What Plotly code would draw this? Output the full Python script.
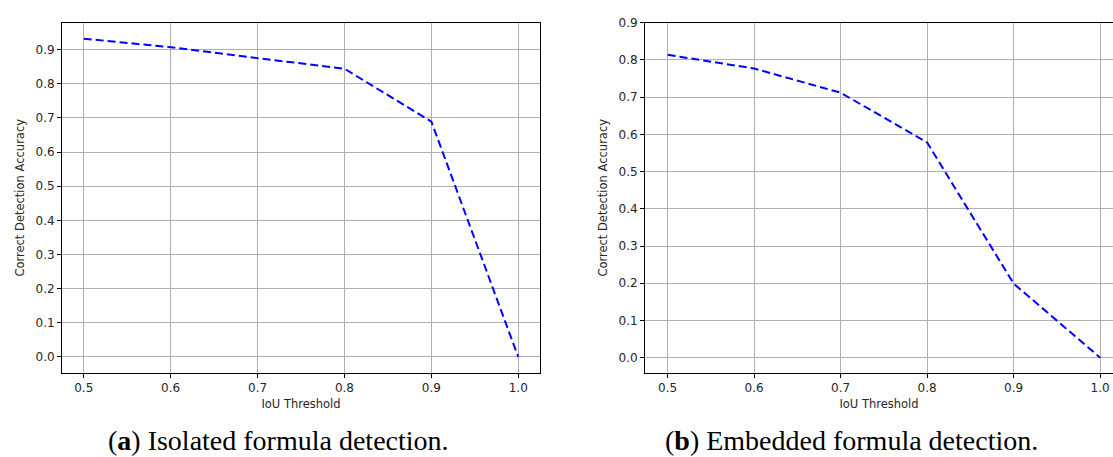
"""IoU threshold vs. correct detection accuracy, two panels."""

import plotly.graph_objects as go
from plotly.subplots import make_subplots

iou_threshold = [0.5, 0.6, 0.7, 0.8, 0.9, 1.0]
acc_isolated = [0.932, 0.907, 0.875, 0.844, 0.689, 0.0]
acc_embedded = [0.814, 0.777, 0.712, 0.578, 0.199, 0.0]

x_ticks = [0.5, 0.6, 0.7, 0.8, 0.9, 1.0]
y_ticks = [0.0, 0.1, 0.2, 0.3, 0.4, 0.5, 0.6, 0.7, 0.8, 0.9]

caption_a = "(<b>a</b>) Isolated formula detection."
caption_b = "(<b>b</b>) Embedded formula detection."

W, H = 1113, 457


def px_x(p):
    return p / W


def px_y(p):
    return 1 - p / H


TICK_FONT = dict(family="DejaVu Sans", size=12, color="#262626")
TITLE_FONT = dict(family="DejaVu Sans", size=11.5, color="#262626")

fig = make_subplots(rows=1, cols=2)

for col, ys in ((1, acc_isolated), (2, acc_embedded)):
    fig.add_trace(go.Scatter(
        x=iou_threshold, y=ys,
        mode="lines",
        line=dict(color="#0000ff", width=2, dash="8px,4px"),
        showlegend=False,
    ), row=1, col=col)

axis_common = dict(
    showgrid=True, gridcolor="#b0b0b0", gridwidth=1,
    showline=True, linecolor="black", linewidth=1,
    ticks="outside", ticklen=4, tickcolor="black",
    tickfont=TICK_FONT, zeroline=False, ticklabeloverflow="allow",
)
fig.update_xaxes(axis_common)
fig.update_yaxes(axis_common)

x_text = [f"{v:.1f}" for v in x_ticks]
y_text = [f"{v:.1f}" for v in y_ticks]

# right panel runs past the image edge in the reference
x2_right = 0.4738 + (W - 645) / 865.0

fig.update_layout(
    xaxis=dict(domain=[px_x(62), px_x(540)], range=[0.475, 1.025], mirror=True,
               tickvals=x_ticks, ticktext=x_text,
               title=dict(text="IoU Threshold", font=TITLE_FONT, standoff=5)),
    yaxis=dict(domain=[px_y(371.5), px_y(16)], range=[-0.0466, 0.9786], mirror=True,
               tickvals=y_ticks, ticktext=y_text,
               title=dict(text="Correct Detection Accuracy", font=TITLE_FONT, standoff=8)),
    xaxis2=dict(domain=[px_x(645), 1.0], range=[0.4738, x2_right], mirror=True,
                tickvals=x_ticks, ticktext=x_text,
                title=dict(text="IoU Threshold", font=TITLE_FONT, standoff=5)),
    yaxis2=dict(domain=[px_y(371.5), px_y(16)], range=[-0.0407, 0.9], mirror=False,
                tickvals=y_ticks, ticktext=y_text,
                title=dict(text="Correct Detection Accuracy", font=TITLE_FONT, standoff=8)),
    width=W, height=H,
    margin=dict(l=0, r=0, t=0, b=0),
    paper_bgcolor="white", plot_bgcolor="white",
)

for text, xc in ((caption_a, 278), (caption_b, 851)):
    fig.add_annotation(
        text=text, xref="paper", yref="paper",
        x=px_x(xc), y=px_y(440), xanchor="center", yanchor="middle",
        showarrow=False,
        font=dict(family="Liberation Serif", size=28, color="black"),
    )

# drop the default 8px body margin so the figure fills the window exactly
fig.write_html(
    "out.html",
    config={"displayModeBar": False},
    post_script="document.body.style.margin = '0';",
)
